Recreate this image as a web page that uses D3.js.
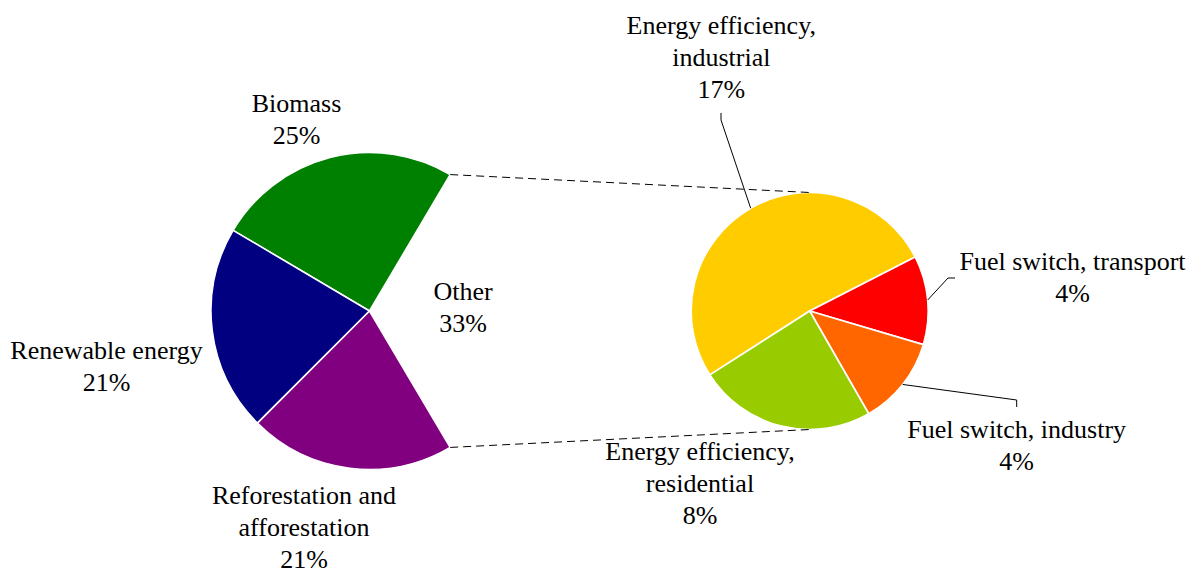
<!DOCTYPE html>
<html>
<head>
<meta charset="utf-8">
<script src="https://cdn.jsdelivr.net/npm/d3@7"></script>
<style>
  html, body { margin: 0; padding: 0; background: #fff; }
  svg { display: block; }
  text { font-family: "Liberation Serif", "Times New Roman", serif; font-size: 26px; fill: #000; }
</style>
</head>
<body>
<svg id="chart" width="1192" height="572"></svg>
<script>
// Emission reduction shares: main pie, with "Other" broken out in a secondary pie
const mainCategories = ["Biomass", "Renewable energy", "Reforestation and afforestation", "Other"];
const mainValues = [25, 21, 21, 33];
const splitCategories = ["Energy efficiency, industrial", "Fuel switch, transport", "Fuel switch, industry", "Energy efficiency, residential"];
const splitValues = [17, 4, 4, 8];

// ---- layout / style ----
const mainColors = ["#008000", "#000080", "#800080", "none"];
const splitColors = ["#FFCC00", "#FF0000", "#FF6600", "#99CC00"];
const mainGeo = { cx: 369.5, cy: 311, r: 158.5 };
const splitGeo = { cx: 809.7, cy: 311, r: 118.5 };
const splitRotationDeg = 237.4;
const lineGap = 32;

// label text wrapping and anchor (centre x, first baseline)
const mainLabelLayout = [
  { lines: ["Biomass"], x: 296.5, y: 111.7 },
  { lines: ["Renewable energy"], x: 106.5, y: 358.5 },
  { lines: ["Reforestation and", "afforestation"], x: 304, y: 503.5 },
  { lines: ["Other"], x: 463, y: 300 }
];
const splitLabelLayout = [
  { lines: ["Energy efficiency,", "industrial"], x: 721.3, y: 33.5,
    leader: [[721, 113], [721, 120]] },
  { lines: ["Fuel switch, transport"], x: 1072.5, y: 269.5,
    leader: [[955, 278], [948, 278]] },
  { lines: ["Fuel switch, industry"], x: 1016.7, y: 437.5,
    leader: [[1016.7, 407], [1016.7, 400]] },
  { lines: ["Energy efficiency,", "residential"], x: 700, y: 460, leader: null }
];

const svg = d3.select("#chart");
const pct = v => v + "%";
const polar = (geo, a, rr) => [geo.cx + rr * Math.sin(a), geo.cy - rr * Math.cos(a)];

// ---- main pie: laid out counter-clockwise so "Other" is centred on the right ----
const mainTotal = d3.sum(mainValues);
const otherShare = mainValues[3] / mainTotal;
const a0 = Math.PI / 2 - otherShare * Math.PI;
const mainPie = d3.pie().sort(null).value(d => d).startAngle(a0).endAngle(a0 - 2 * Math.PI);
const mainArcs = mainPie(mainValues);
const mainArc = d3.arc().innerRadius(0).outerRadius(mainGeo.r);

const gMain = svg.append("g").attr("transform", `translate(${mainGeo.cx},${mainGeo.cy})`);
gMain.selectAll("path")
  .data(mainArcs.filter((d, i) => mainColors[i] !== "none"))
  .join("path")
  .attr("d", mainArc)
  .attr("fill", (d) => mainColors[d.index])
  .attr("stroke", "#fff")
  .attr("stroke-width", 1.6)
  .attr("stroke-linejoin", "round");

// ---- secondary pie ----
const splitPie = d3.pie().sort(null).value(d => d)
  .startAngle(splitRotationDeg * Math.PI / 180)
  .endAngle(splitRotationDeg * Math.PI / 180 + 2 * Math.PI);
const splitArcs = splitPie(splitValues);
const splitArc = d3.arc().innerRadius(0).outerRadius(splitGeo.r);

const gSplit = svg.append("g").attr("transform", `translate(${splitGeo.cx},${splitGeo.cy})`);
gSplit.selectAll("path")
  .data(splitArcs)
  .join("path")
  .attr("d", splitArc)
  .attr("fill", d => splitColors[d.index])
  .attr("stroke", "#fff")
  .attr("stroke-width", 1.6)
  .attr("stroke-linejoin", "round");

// ---- dashed connectors from the "Other" wedge to the top and bottom of the secondary pie ----
const other = mainArcs[3];
const pTop = polar(mainGeo, other.endAngle, mainGeo.r);
const pBot = polar(mainGeo, other.startAngle, mainGeo.r);
const connectors = [
  [pTop, [splitGeo.cx, splitGeo.cy - splitGeo.r]],
  [pBot, [splitGeo.cx, splitGeo.cy + splitGeo.r]]
];
svg.selectAll("line.conn")
  .data(connectors)
  .join("line")
  .attr("class", "conn")
  .attr("x1", d => d[0][0]).attr("y1", d => d[0][1])
  .attr("x2", d => d[1][0]).attr("y2", d => d[1][1])
  .attr("stroke", "#000")
  .attr("stroke-width", 1)
  .attr("stroke-dasharray", "8,5");

// ---- leader lines for the secondary pie labels ----
const leaderLine = d3.line();
splitArcs.forEach((d, i) => {
  const lay = splitLabelLayout[i];
  if (!lay.leader) return;
  const mid = (d.startAngle + d.endAngle) / 2;
  const pts = lay.leader.concat([polar(splitGeo, mid, splitGeo.r)]);
  svg.append("path")
    .attr("d", leaderLine(pts))
    .attr("fill", "none")
    .attr("stroke", "#000")
    .attr("stroke-width", 1);
});

// ---- labels ----
function drawLabel(lay, value) {
  const t = svg.append("text").attr("text-anchor", "middle");
  lay.lines.concat([pct(value)]).forEach((s, k) => {
    t.append("tspan").attr("x", lay.x).attr("y", lay.y + k * lineGap).text(s);
  });
}
mainValues.forEach((v, i) => drawLabel(mainLabelLayout[i], v));
splitValues.forEach((v, i) => drawLabel(splitLabelLayout[i], v));
</script>
</body>
</html>
